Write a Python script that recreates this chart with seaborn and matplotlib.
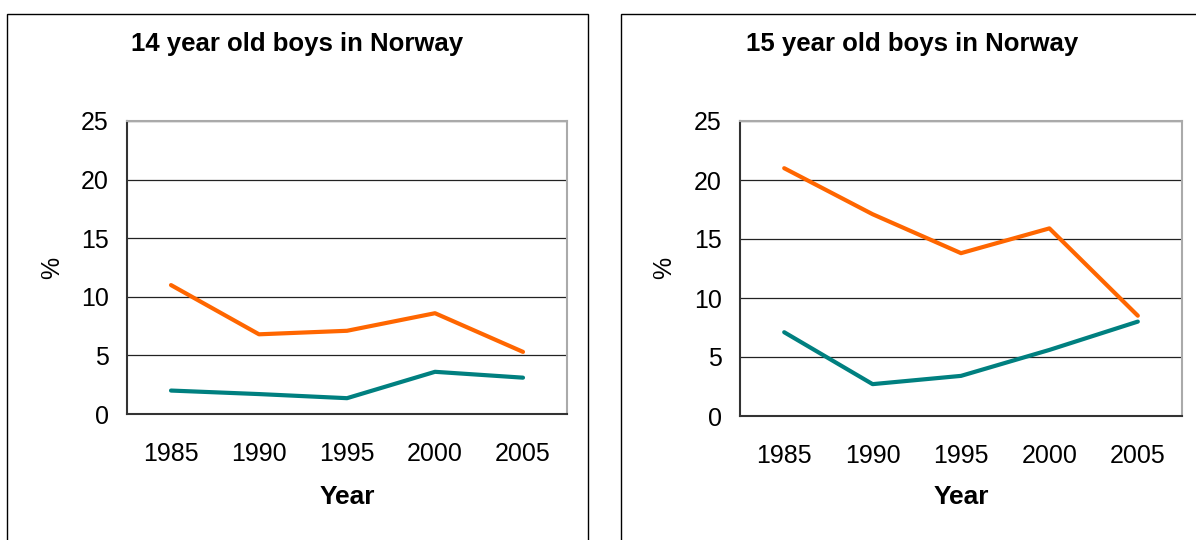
import matplotlib
matplotlib.use("Agg")
import matplotlib.pyplot as plt
import seaborn as sns
import pandas as pd
from matplotlib.patches import Rectangle

years = ["1985", "1990", "1995", "2000", "2005"]
boys14_orange = [11.0, 6.8, 7.1, 8.6, 5.3]
boys14_teal = [2.0, 1.7, 1.35, 3.6, 3.1]
boys15_orange = [21.0, 17.1, 13.8, 15.9, 8.5]
boys15_teal = [7.1, 2.7, 3.4, 5.6, 8.0]
titles = ["14 year old boys in Norway", "15 year old boys in Norway"]

sns.set_style("white")
plt.rcParams['font.family'] = ['Liberation Sans', 'DejaVu Sans']
plt.rcParams['text.color'] = 'black'
plt.rcParams['xtick.color'] = 'black'
plt.rcParams['ytick.color'] = 'black'
plt.rcParams['xtick.labelcolor'] = 'black'
plt.rcParams['ytick.labelcolor'] = 'black'

ORANGE = "#FF6600"
TEAL = "#008080"

fig = plt.figure(figsize=(11.96, 5.4), dpi=100)
W, H = 1196, 540

def fx(px):
    return px / W

def fy(py):
    return 1 - py / H

# panel boxes
fig.patches.append(Rectangle((fx(7), fy(560)), fx(588) - fx(7), fy(14) - fy(560),
                             transform=fig.transFigure, fill=False, ec="black", lw=1.0))
fig.patches.append(Rectangle((fx(621), fy(560)), fx(1210) - fx(621), fy(14) - fy(560),
                             transform=fig.transFigure, fill=False, ec="black", lw=1.0))

panels = [
    dict(ax=(127, 121, 567, 414), orange=boys14_orange, teal=boys14_teal, title=titles[0],
         title_x=297, pct_x=52),
    dict(ax=(740, 121, 1182, 416), orange=boys15_orange, teal=boys15_teal, title=titles[1],
         title_x=912, pct_x=664),
]

for p in panels:
    x0, y0, x1, y1 = p["ax"]
    ax = fig.add_axes([fx(x0), fy(y1), fx(x1) - fx(x0), fy(y0) - fy(y1)])
    df = pd.DataFrame({
        "pos": list(range(len(years))) * 2,
        "value": p["orange"] + p["teal"],
        "series": ["a"] * len(years) + ["b"] * len(years),
    })
    sns.lineplot(data=df, x="pos", y="value", hue="series",
                 palette={"a": ORANGE, "b": TEAL}, lw=3, ax=ax, legend=False)
    ax.set_xlim(-0.5, len(years) - 0.5)
    ax.set_ylim(0, 25)
    ax.set_yticks([0, 5, 10, 15, 20, 25])
    ax.set_yticklabels(["0", "5", "10", "15", "20", "25"], fontsize=18)
    ax.set_xticks([i - 0.5 for i in range(len(years) + 1)])
    ax.set_xticklabels([""] * (len(years) + 1))
    ax.set_xticks(list(range(len(years))), minor=True)
    ax.set_xticklabels(years, minor=True, fontsize=18)
    ax.tick_params(axis="x", which="major", direction="out", length=8, width=1, color="#333333")
    ax.tick_params(axis="x", which="minor", length=0, pad=20)
    ax.tick_params(axis="y", direction="out", length=8, width=1, color="#333333", pad=5)
    ax.yaxis.grid(True, color="#222222", lw=0.9)
    ax.xaxis.grid(False)
    ax.set_axisbelow(True)
    ax.set_xlabel("")
    ax.set_ylabel("")
    for side in ["left", "bottom"]:
        ax.spines[side].set_color("#333333")
        ax.spines[side].set_linewidth(1.5)
    for side in ["top", "right"]:
        ax.spines[side].set_color("#aaaaaa")
        ax.spines[side].set_linewidth(1.5)
    cx = (x0 + x1) / 2
    fig.text(fx(cx), fy(497), "Year", ha="center", va="center", fontsize=19, fontweight="bold")
    fig.text(fx(p["title_x"]), fy(44), p["title"], ha="center", va="center",
             fontsize=18.5, fontweight="bold")
    fig.text(fx(p["pct_x"]), fy(268), "%", ha="center", va="center", fontsize=18, rotation=90)

fig.savefig("out.png", dpi=100)
